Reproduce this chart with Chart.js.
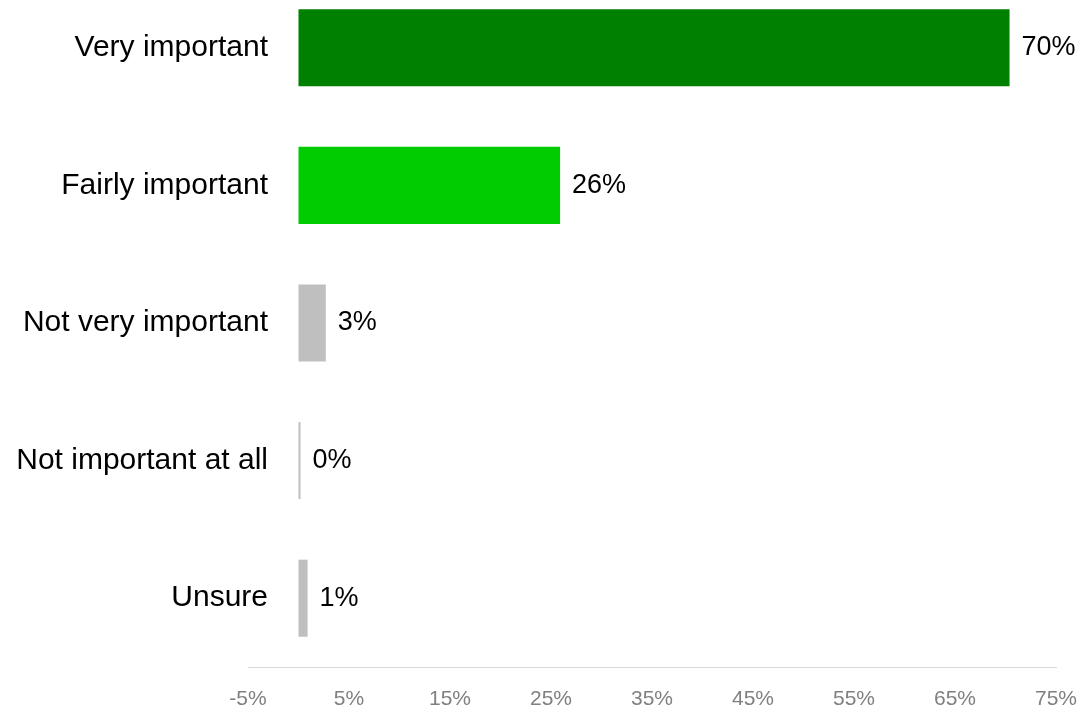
<!DOCTYPE html>
<html>
<head>
<meta charset="utf-8">
<title>Importance</title>
<script src="https://cdn.jsdelivr.net/npm/chart.js@4/dist/chart.umd.min.js"></script>
<style>
  html, body { margin: 0; padding: 0; background: #ffffff; overflow: hidden; }
  #wrap { position: absolute; left: 0; top: -21px; width: 1080px; height: 733px; }
</style>
</head>
<body>
<div id="wrap"><canvas id="chart" width="1080" height="733"></canvas></div>
<script>
// Survey answers and their shares (percent of respondents)
const categories = ['Very important', 'Fairly important', 'Not very important', 'Not important at all', 'Unsure'];
const shares = [70.4, 25.9, 2.7, 0.2, 0.9];
const barColors = ['#008000', '#00cc00', '#bfbfbf', '#bfbfbf', '#bfbfbf'];
const axisTicks = [-5, 5, 15, 25, 35, 45, 55, 65, 75];

const FONT = '"Liberation Sans", Arial, sans-serif';

// Writes the rounded percentage just past the end of each bar
const valueLabels = {
  id: 'valueLabels',
  afterDatasetsDraw(chart) {
    const ctx = chart.ctx;
    const meta = chart.getDatasetMeta(0);
    ctx.save();
    ctx.font = '27px ' + FONT;
    ctx.fillStyle = '#000000';
    ctx.textAlign = 'left';
    ctx.textBaseline = 'middle';
    meta.data.forEach((bar, i) => {
      const v = chart.data.datasets[0].data[i];
      ctx.fillText(Math.round(v) + '%', bar.x + 12, bar.y);
    });
    ctx.restore();
  }
};

// The category labels sit a little inside the value axis' left end,
// so the category scale's box is widened after layout to let them show.
const categoryLabelRoom = {
  id: 'categoryLabelRoom',
  afterLayout(chart) {
    const y = chart.scales.y;
    y.right = chart.chartArea.left + 42;
  }
};

new Chart(document.getElementById('chart'), {
  type: 'bar',
  data: {
    labels: categories,
    datasets: [{
      data: shares,
      backgroundColor: barColors,
      borderWidth: 0,
      categoryPercentage: 0.56,
      barPercentage: 1.0
    }]
  },
  options: {
    indexAxis: 'y',
    responsive: false,
    animation: false,
    layout: { padding: { top: 0, right: 24, bottom: 0, left: 0 } },
    plugins: {
      legend: { display: false },
      tooltip: { enabled: false }
    },
    scales: {
      x: {
        type: 'linear',
        min: -5,
        max: 75,
        afterBuildTicks(scale) {
          scale.ticks = axisTicks.map(v => ({ value: v }));
        },
        afterFit(scale) {
          scale.height = 45;
          scale.paddingLeft = 0;
          scale.paddingRight = 0;
        },
        grid: { display: true, color: 'rgba(0,0,0,0)', drawTicks: false },
        border: { display: true, color: '#d9d9d9', width: 1 },
        ticks: {
          autoSkip: false,
          padding: 20,
          color: '#808080',
          font: { family: FONT, size: 21 },
          callback: v => v + '%'
        }
      },
      y: {
        afterFit(scale) {
          scale.width = 248;
          scale.paddingTop = 0;
          scale.paddingBottom = 0;
        },
        grid: { display: false, drawTicks: false },
        border: { display: false },
        ticks: {
          padding: 22,
          color: '#000000',
          font: { family: FONT, size: 30 }
        }
      }
    }
  },
  plugins: [valueLabels, categoryLabelRoom]
});
</script>
</body>
</html>
